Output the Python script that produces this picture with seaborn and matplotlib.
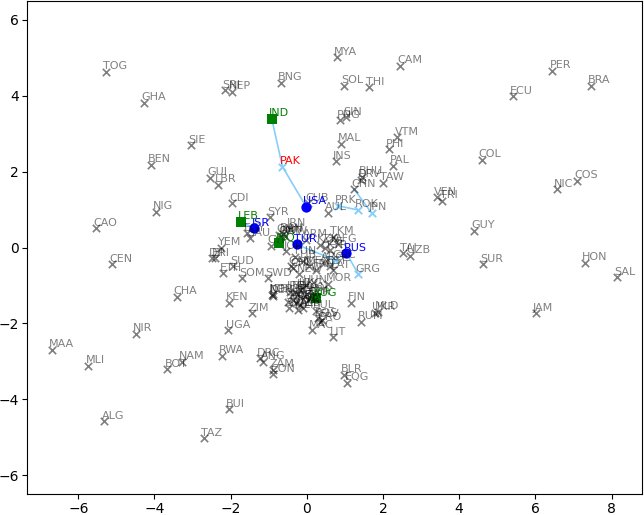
import matplotlib
matplotlib.use("Agg")
import matplotlib.pyplot as plt
import seaborn as sns
import pandas as pd

# ---- data ----
gray_names = ["TOG", "GHA", "SRI", "NEP", "BNG", "SIE", "BEN", "GUI", "LBR", "CDI",
              "NIG", "CAO", "CEN", "CHA", "NIR", "MAA", "MLI", "BOT", "NAM", "RWA",
              "DRC", "ANG", "ZAM", "CON", "BUI", "ALG", "TAZ", "UGA", "KEN", "ZIM",
              "YEM", "DJI", "ERI", "ETH", "SUD", "SOM", "SWD", "EGY", "SAU", "SYR",
              "IRN", "CYP", "OMN", "QAT", "BAH", "KUW", "ARM", "TKM", "AFG", "KZK",
              "AZE", "KYR", "TAJ", "UZB", "MOR", "HUN", "FIN", "UKR", "MLD", "RUM",
              "LIT", "MAC", "BOS", "SLV", "CRO", "BLR", "EQG", "NOR", "DEN", "ICE",
              "SLO", "SWZ", "ALB", "BEL", "NTH", "LUX", "GMY", "AUS", "ITA", "SPN",
              "POR", "IRE", "UKG", "CZR", "POL", "MLT", "BUL", "CAN", "CHL", "MEX",
              "FRN", "ARG", "EST", "LAT", "NEW", "JOR", "TUN", "LIB", "CUB", "CHN",
              "AUL", "MYA", "CAM", "SOL", "THI", "PER", "BRA", "ECU", "SIN", "PNG",
              "MAL", "VTM", "PHI", "INS", "PAL", "COL", "BHU", "DRV", "TAW", "NIC",
              "COS", "VEN", "TRI", "GUY", "SUR", "HON", "SAL", "JAM"]
gray_x = [-5.27, -4.28, -2.15, -1.97, -0.69, -3.05, -4.10, -2.54, -2.33, -1.97,
          -3.97, -5.54, -5.12, -3.42, -4.49, -6.69, -5.74, -3.66, -3.29, -2.24,
          -1.23, -1.14, -0.90, -0.88, -2.04, -5.32, -2.70, -2.06, -2.04, -1.45,
          -2.25, -2.50, -2.41, -2.21, -1.94, -1.70, -1.01, -1.58, -1.49, -0.97,
          -0.44, -0.95, -0.73, -0.68, -0.63, -0.57, -0.02, 0.69, 0.82, 0.34,
          0.48, 0.61, 2.53, 2.71, 0.56, -0.02, 1.15, 1.79, 1.87, 1.41,
          0.68, 0.13, 0.29, 0.40, 0.34, 0.97, 1.06, -0.92, -0.90, -0.89,
          -0.50, -0.48, -0.10, -0.31, -0.23, -0.18, -0.05, -0.36, 0.03, -0.29,
          -0.18, -0.44, -0.13, 0.08, 0.16, -0.23, 0.24, -0.42, -0.35, 0.05,
          0.24, 0.45, 0.60, 0.70, -0.20, -0.55, -0.30, -0.10, 0.03, 1.24,
          0.55, 0.78, 2.44, 0.97, 1.62, 6.45, 7.45, 5.40, 1.02, 0.87,
          0.90, 2.38, 2.16, 0.76, 2.25, 4.59, 1.44, 1.42, 1.99, 6.56,
          7.10, 3.41, 3.56, 4.40, 4.63, 7.30, 8.15, 6.01]
gray_y = [4.64, 3.82, 4.14, 4.11, 4.35, 2.69, 2.18, 1.84, 1.65, 1.17,
          0.94, 0.51, -0.44, -1.30, -2.28, -2.69, -3.12, -3.21, -3.01, -2.85,
          -2.92, -3.01, -3.23, -3.34, -4.27, -4.58, -5.03, -2.18, -1.46, -1.74,
          -0.01, -0.28, -0.28, -0.68, -0.49, -0.81, -0.81, 0.37, 0.25, 0.80,
          0.49, 0.04, 0.33, 0.30, 0.36, 0.30, 0.20, 0.28, 0.09, 0.07,
          -0.01, -0.07, -0.15, -0.22, -0.96, -0.99, -1.46, -1.72, -1.69, -1.96,
          -2.37, -2.18, -1.86, -1.91, -1.97, -3.36, -3.57, -1.25, -1.27, -1.23,
          -1.43, -1.60, -1.60, -1.17, -1.23, -1.12, -1.28, -1.39, -1.39, -1.46,
          -1.52, -1.17, -1.07, -1.33, -1.20, -1.65, -1.67, -0.49, -0.55, -0.50,
          -0.59, -0.40, -0.50, -0.60, -0.70, -0.10, -0.25, -0.35, 1.17, 1.54,
          0.91, 5.02, 4.79, 4.26, 4.23, 4.66, 4.27, 3.99, 3.44, 3.35,
          2.73, 2.91, 2.59, 2.28, 2.16, 2.31, 1.87, 1.78, 1.71, 1.54,
          1.76, 1.32, 1.23, 0.44, -0.44, -0.40, -0.79, -1.74]

blue_names = ["USA", "ISR", "TUR", "RUS"]
blue_x = [-0.02, -1.38, -0.27, 1.04]
blue_y = [1.08, 0.51, 0.08, -0.15]

green_names = ["IND", "LEB", "IRQ", "YUG"]
green_x = [-0.92, -1.73, -0.73, 0.25]
green_y = [3.39, 0.68, 0.11, -1.34]

rival_names = ["PAK", "GRC", "GRG", "PRK", "ROK", "JPN"]
rival_x = [-0.64, 0.74, 1.35, 0.82, 1.34, 1.70]
rival_y = [2.13, -0.33, -0.70, 1.10, 0.99, 0.91]

links = [("IND", "PAK"), ("USA", "PAK"), ("LEB", "ISR"), ("TUR", "GRC"),
         ("RUS", "GRG"), ("PRK", "ROK"), ("CHN", "JPN")]

# ---- figure ----
fig = plt.figure(figsize=(6.44, 5.15), dpi=100)
ax = fig.add_axes([26.5 / 644, 21 / 515, 615.5 / 644, 493 / 515])

pos = {}
for n, x, y in zip(gray_names + blue_names + green_names + rival_names,
                   gray_x + blue_x + green_x + rival_x,
                   gray_y + blue_y + green_y + rival_y):
    pos[n] = (x, y)

for a, b in links:
    ax.plot([pos[a][0], pos[b][0]], [pos[a][1], pos[b][1]],
            color="lightskyblue", lw=1.2, zorder=1)

gray_df = pd.DataFrame({"x": gray_x, "y": gray_y, "name": gray_names})
sns.scatterplot(data=gray_df, x="x", y="y", marker="x", color="black",
                alpha=0.5, s=28, linewidth=1.2, ax=ax, zorder=2)

rival_df = pd.DataFrame({"x": rival_x, "y": rival_y})
sns.scatterplot(data=rival_df, x="x", y="y", marker="x", color="lightskyblue",
                s=28, linewidth=1.4, ax=ax, zorder=3)

blue_df = pd.DataFrame({"x": blue_x, "y": blue_y})
sns.scatterplot(data=blue_df, x="x", y="y", marker="o", color="blue",
                s=55, linewidth=0, ax=ax, zorder=4)

green_df = pd.DataFrame({"x": green_x, "y": green_y})
sns.scatterplot(data=green_df, x="x", y="y", marker="s", color="green",
                s=45, linewidth=0, ax=ax, zorder=4)

def label(n, x, y, color, alpha):
    ax.annotate(n, (x, y), xytext=(-2.0, 1.8), textcoords="offset points",
                fontsize=8, color=color, alpha=alpha, ha="left", va="baseline",
                zorder=5)

for n, x, y in zip(gray_names, gray_x, gray_y):
    label(n, x, y, "black", 0.5)
for n, x, y in zip(rival_names, rival_x, rival_y):
    if n == "PAK":
        label(n, x, y, "red", 1.0)
    else:
        label(n, x, y, "black", 0.5)
for n, x, y in zip(blue_names, blue_x, blue_y):
    label(n, x, y, "blue", 1.0)
for n, x, y in zip(green_names, green_x, green_y):
    label(n, x, y, "green", 1.0)

ax.set_xlim(-7.36, 8.80)
ax.set_ylim(-6.5, 6.5)
ax.set_xticks([-6, -4, -2, 0, 2, 4, 6, 8])
ax.set_yticks([-6, -4, -2, 0, 2, 4, 6])
ax.tick_params(axis="x", pad=2.5)
ax.tick_params(axis="y", pad=2.0)
ax.set_xlabel("")
ax.set_ylabel("")

fig.savefig("out.png", dpi=100)
